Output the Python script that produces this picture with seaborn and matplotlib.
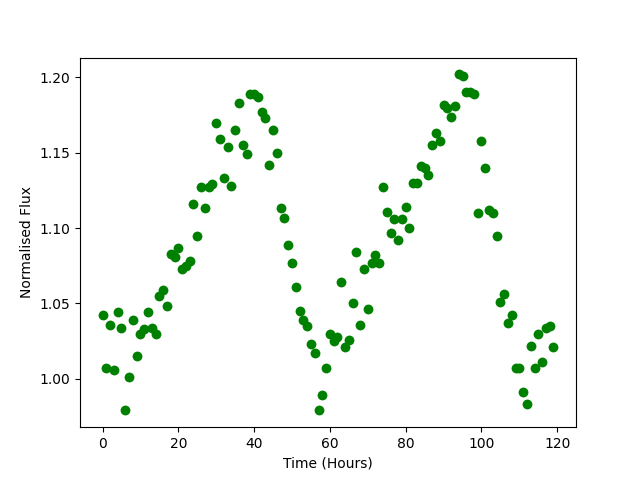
import matplotlib
matplotlib.use('Agg')
import matplotlib.pyplot as plt
import numpy as np
import seaborn as sns

# Hourly normalised flux readings
hours = list(range(120))
flux = [
    1.042, 1.007, 1.036, 1.006, 1.044, 1.034, 0.979, 1.001, 1.039, 1.015,
    1.030, 1.033, 1.044, 1.034, 1.030, 1.055, 1.059, 1.048, 1.083, 1.081,
    1.087, 1.073, 1.075, 1.078, 1.116, 1.095, 1.127, 1.113, 1.127, 1.129,
    1.170, 1.159, 1.133, 1.154, 1.128, 1.165, 1.183, 1.155, 1.149, 1.189,
    1.189, 1.187, 1.177, 1.173, 1.142, 1.165, 1.150, 1.113, 1.107, 1.089,
    1.077, 1.061, 1.045, 1.039, 1.035, 1.023, 1.017, 0.979, 0.989, 1.007,
    1.030, 1.025, 1.028, 1.064, 1.021, 1.026, 1.050, 1.084, 1.036, 1.073,
    1.046, 1.077, 1.082, 1.077, 1.127, 1.111, 1.097, 1.106, 1.092, 1.106,
    1.114, 1.100, 1.130, 1.130, 1.141, 1.140, 1.135, 1.155, 1.163, 1.158,
    1.182, 1.180, 1.174, 1.181, 1.202, 1.201, 1.190, 1.190, 1.189, 1.110,
    1.158, 1.140, 1.112, 1.110, 1.095, 1.051, 1.056, 1.037, 1.042, 1.007,
    1.007, 0.991, 0.983, 1.022, 1.007, 1.030, 1.011, 1.034, 1.035, 1.021,
]

fig, ax = plt.subplots(figsize=(6.4, 4.8), dpi=100)
sns.scatterplot(x=hours, y=flux, color='green', s=50, linewidth=0, ax=ax)

ax.set_xlabel('Time (Hours)')
ax.set_ylabel('Normalised Flux')

plt.savefig('out.png', dpi=100)
plt.close()
